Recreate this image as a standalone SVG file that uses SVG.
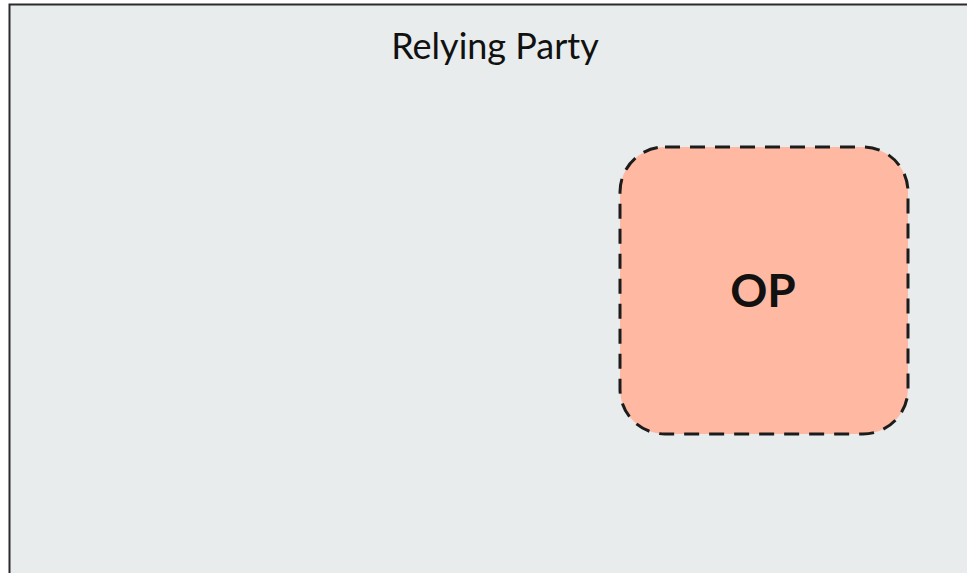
<svg xmlns="http://www.w3.org/2000/svg" width="967" height="573" viewBox="0 0 967 573">
<style>
.lbl{font-family:Lato,"Liberation Sans",sans-serif;fill:#111;text-anchor:middle}
</style>
<rect width="967" height="573" fill="#ffffff"/>
<g id="relying-party">
<rect x="9.5" y="4.5" width="980" height="600" fill="#e8ecec" stroke="#2b2b2b" stroke-width="2"/>
<text class="lbl" x="495" y="59" font-size="36">Relying Party</text>
</g>
<g id="op">
<rect x="620" y="147" width="288" height="287" rx="45" ry="45" fill="#ffb8a2" stroke="#1c1c1c" stroke-width="3" stroke-dasharray="15 10"/>
<text class="lbl" x="763" y="307" font-size="46" font-weight="bold">OP</text>
</g>
<g id="connectors"/>
</svg>
